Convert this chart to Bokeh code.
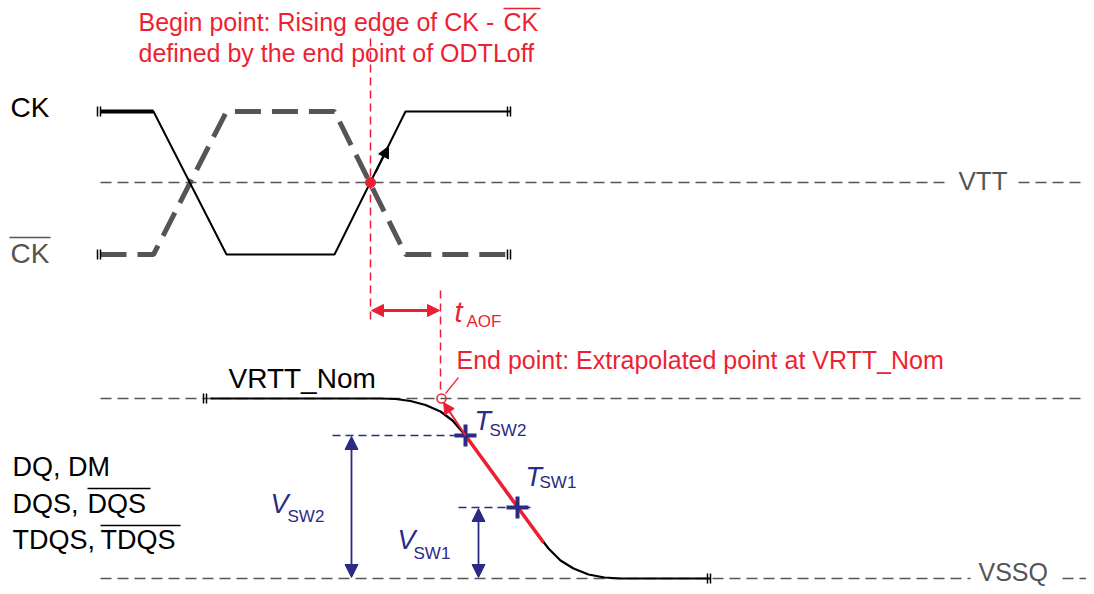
from bokeh.plotting import figure
from bokeh.models import Range1d, Arrow, NormalHead
from bokeh.core.properties import value
from bokeh.embed import file_html
from bokeh.resources import INLINE

# ---------------- data (timing diagram) ----------------
HIGH, LOW, VTT = 111, 254, 182
ck_t = [100, 153, 226, 334, 405, 510]
ck_v = [HIGH, HIGH, LOW, LOW, HIGH, HIGH]
ckb_v = [LOW, LOW, HIGH, HIGH, LOW, LOW]

VRTT, VSSQ = 398, 578
dq_t = [210, 380, 395, 410, 425, 440, 452, 465, 517, 535, 548, 560, 573, 588, 604, 620, 710]
dq_v = [398, 398, 398.5, 400.5, 404.5, 411, 420, 435, 507, 531, 548, 560, 568, 574, 577, 578, 578]

t_begin, t_end = 370, 441          # begin point / extrapolated end point
tsw_t = [465, 517]                 # Tsw2, Tsw1
tsw_v = [435, 507]
tangent_end = (543, 542)

RED = "#ee1f33"
BLUE = "#2b2a85"
GRAY = "#555555"
FONT = "Liberation Sans"

p = figure(width=1086, height=586, x_range=Range1d(0, 1086), y_range=Range1d(586, 0),
           output_backend="svg", toolbar_location=None,
           x_axis_location=None, y_axis_location=None, min_border=0)
p.grid.visible = False
p.outline_line_color = None
p.background_fill_color = "white"


def txt(x, y, s, size, color="black", style="normal", align="left"):
    # y is the visual baseline; compensate the renderer's baseline offset
    p.text(x=[x], y=[y - 0.4 * size], text=[s], text_font=value(FONT),
           text_font_size=value(f"{size}px"), text_color=color, text_font_style=style,
           text_align=align, text_baseline="alphabetic")


# reference dashed lines
p.line([100, 950], [VTT, VTT], line_color=GRAY, line_width=1.5, line_dash="11 6")
p.line([1018, 1086], [VTT, VTT], line_color=GRAY, line_width=1.5, line_dash="11 6")
p.line([100, 1086], [VRTT, VRTT], line_color=GRAY, line_width=1.5, line_dash="11 6")
p.line([100, 970], [VSSQ, VSSQ], line_color=GRAY, line_width=1.5, line_dash="11 6")
p.line([1062, 1086], [VSSQ, VSSQ], line_color=GRAY, line_width=1.5, line_dash="11 6")

# clock waveforms
p.line(ck_t, ckb_v, line_color=GRAY, line_width=5, line_dash="26 11")
p.line(ck_t[:2], ck_v[:2], line_color="black", line_width=4)
p.line(ck_t, ck_v, line_color="black", line_width=2)

# break marks
for bx, by in [(ck_t[0], HIGH), (ck_t[0], LOW), (ck_t[-1], HIGH), (ck_t[-1], LOW),
               (dq_t[0] - 4, VRTT), (dq_t[-1], VSSQ)]:
    p.segment(x0=[bx - 3, bx], y0=[by - 5, by - 5], x1=[bx - 3, bx], y1=[by + 5, by + 5],
              line_color="black", line_width=1.5)

# arrow on rising CK edge
p.add_layout(Arrow(end=NormalHead(size=11, fill_color="black", line_color="black"),
                   x_start=375, y_start=172, x_end=388, y_end=146,
                   line_color="black", line_width=2))

# red begin line
p.line([t_begin, t_begin], [38, 322], line_color=RED, line_width=1.5, line_dash="8 5")
p.scatter([t_begin], [VTT], size=10, color=RED)
p.line([t_end - 1, t_end - 1], [290, 393], line_color=RED, line_width=1.5, line_dash="8 5")
p.add_layout(Arrow(start=NormalHead(size=12, fill_color=RED, line_color=RED),
                   end=NormalHead(size=12, fill_color=RED, line_color=RED),
                   x_start=t_begin + 1, y_start=310, x_end=t_end - 2, y_end=310,
                   line_color=RED, line_width=3))

# DQ waveform
p.line(dq_t, dq_v, line_color="black", line_width=2.2)
p.line([tsw_t[0], tangent_end[0]], [tsw_v[0], tangent_end[1]], line_color=RED, line_width=3.5)
p.add_layout(Arrow(end=NormalHead(size=11, fill_color=RED, line_color=RED),
                   x_start=tsw_t[0], y_start=tsw_v[0], x_end=t_end + 2, y_end=VRTT + 4,
                   line_color=RED, line_width=2))
p.scatter([t_end], [VRTT], size=9, marker="circle", fill_color=None, line_color=RED, line_width=1.5)
p.line([445, 458], [393, 377], line_color=RED, line_width=1.2)

# switching levels
p.line([332, tsw_t[0]], [tsw_v[0], tsw_v[0]], line_color=BLUE, line_width=1.5, line_dash="8 5")
p.line([458, 530], [tsw_v[1], tsw_v[1]], line_color=BLUE, line_width=1.5, line_dash="8 5")
p.scatter(tsw_t, tsw_v, marker="cross", size=22, line_color=BLUE, line_width=4)
p.add_layout(Arrow(start=NormalHead(size=13, fill_color=BLUE, line_color=BLUE),
                   end=NormalHead(size=13, fill_color=BLUE, line_color=BLUE),
                   x_start=351, y_start=tsw_v[0] + 1, x_end=351, y_end=VSSQ - 1,
                   line_color=BLUE, line_width=1.8))
p.add_layout(Arrow(start=NormalHead(size=13, fill_color=BLUE, line_color=BLUE),
                   end=NormalHead(size=13, fill_color=BLUE, line_color=BLUE),
                   x_start=478, y_start=tsw_v[1] + 1, x_end=478, y_end=VSSQ - 1,
                   line_color=BLUE, line_width=1.8))

# texts
txt(138, 31, "Begin point: Rising edge of CK - ", 25, RED)
txt(503, 31, "CK", 25, RED)
p.line([503, 540], [8, 8], line_color=RED, line_width=1.5)
txt(138, 62, "defined by the end point of ODTLoff", 25, RED)
txt(456, 369, "End point: Extrapolated point at VRTT_Nom", 25, RED)
txt(454, 323, "t", 29, RED, "italic")
txt(466, 328, "AOF", 17, RED)

txt(10, 118, "CK", 28)
txt(10, 264, "CK", 28, GRAY)
p.line([9, 50], [237, 237], line_color=GRAY, line_width=1.5)
txt(958, 191, "VTT", 26, GRAY)
txt(978, 581, "VSSQ", 25, GRAY)
txt(228, 389, "VRTT_Nom", 28)

txt(12, 477, "DQ, DM", 27)
txt(12, 514, "DQS, ", 27)
txt(87, 514, "DQS", 27)
p.line([87, 150], [488, 488], line_color="black", line_width=1.5)
txt(12, 550, "TDQS, ", 27)
txt(100, 550, "TDQS", 27)
p.line([100, 180], [525, 525], line_color="black", line_width=1.5)

txt(270, 514, "V", 27, BLUE, "italic")
txt(287, 523, "SW2", 17, BLUE)
txt(397, 550, "V", 27, BLUE, "italic")
txt(413, 560, "SW1", 17, BLUE)
txt(474, 431, "T", 27, BLUE, "italic")
txt(489, 437, "SW2", 17, BLUE)
txt(525, 487, "T", 27, BLUE, "italic")
txt(539, 489, "SW1", 17, BLUE)

open("out.html", "w").write(file_html(p, INLINE))
